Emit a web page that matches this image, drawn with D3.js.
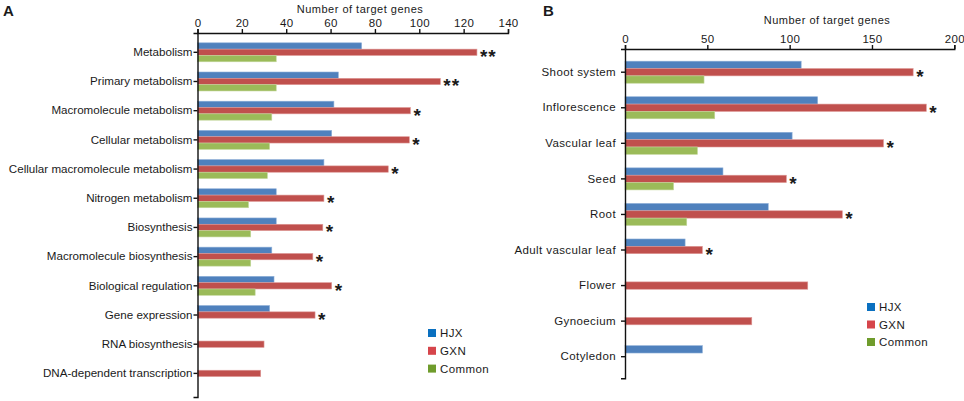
<!DOCTYPE html>
<html>
<head>
<meta charset="utf-8">
<script src="https://cdn.jsdelivr.net/npm/d3@7"></script>
<style>
	body { margin: 0; background: #fff; }
	svg text { font-family: 'Liberation Sans', Arial, sans-serif; fill: #1a1a1a; }
</style>
</head>
<body>
<svg id="chart" width="964" height="401"></svg>
<script>

// panel A : GO categories
var categoriesA = ['Metabolism', 'Primary metabolism', 'Macromolecule metabolism', 'Cellular metabolism',
	'Cellular macromolecule metabolism', 'Nitrogen metabolism', 'Biosynthesis', 'Macromolecule biosynthesis',
	'Biological regulation', 'Gene expression', 'RNA biosynthesis', 'DNA-dependent transcription']
var hjxA    = [74, 63.5, 61.5, 60.5, 57, 35.5, 35.5, 33.5, 34.5, 32.5, null, null]
var gxnA    = [126, 109.5, 96, 95.5, 86, 57, 56.5, 52, 60.5, 53, 30, 28.5]
var commonA = [35.5, 35.5, 33.5, 32.5, 31.5, 23, 24, 24, 26, null, null, null]
var starsA  = ['**', '**', '*', '*', '*', '*', '*', '*', '*', '*', '', '']
var ticksA  = [0, 20, 40, 60, 80, 100, 120, 140]

// panel B : plant organs
var categoriesB = ['Shoot system', 'Inflorescence', 'Vascular leaf', 'Seed', 'Root',
	'Adult vascular leaf', 'Flower', 'Gynoecium', 'Cotyledon']
var hjxB    = [107, 117, 101.5, 59.5, 87, 36.5, null, null, 47]
var gxnB    = [175, 183, 157, 98, 132, 47, 111, 77, null]
var commonB = [48, 54.5, 44, 29.5, 37.5, null, null, null, null]
var starsB  = ['*', '*', '*', '*', '*', '*', '', '', '']
var ticksB  = [0, 50, 100, 150, 200]

var seriesNames = ['HJX', 'GXN', 'Common']
var barColors = ['#4f81bd', '#c0504d', '#9bbb59']
var barStrokes = ['#8fb0d8', '#de9896', '#c3d79c']
var legendColors = ['#0a70c0', '#d6454b', '#6f9c2c']

var svg = d3.select('#chart')

/**
 * draw one horizontal grouped bar panel
 */
function drawPanel(opts) {

	var g = svg.append('g')

	var x = d3.scaleLinear()
		.domain([0, d3.max(opts.ticks)])
		.range(opts.xRange)

	var y = d3.scaleBand()
		.domain(opts.categories)
		.range(opts.yRange)
		.paddingInner(opts.padInner)
		.paddingOuter(opts.padOuter)
		.align(opts.align)

	var sub = d3.scaleBand()
		.domain(seriesNames)
		.range([0, y.bandwidth()])

	var rows = opts.categories.map(function(c, i) {
		return {
			name: c
			, values: [opts.hjx[i], opts.gxn[i], opts.common[i]]
			, star: opts.stars[i]
		}
	})

	// bars
	rows.forEach(function(row) {
		g.selectAll(null).data(row.values.map(function(v, k) { return {v: v, k: k} })
			.filter(function(d) { return d.v != null }))
		  .enter()
		    .append('rect')
		    .attr('x', x(0))
		    .attr('y', function(d) { return y(row.name) + sub(seriesNames[d.k]) })
		    .attr('width', function(d) { return x(d.v) - x(0) })
		    .attr('height', sub.bandwidth())
		    .style('fill', function(d) { return barColors[d.k] })
		    .style('stroke', function(d) { return barStrokes[d.k] })
		    .style('stroke-width', 0.6)
	})

	// significance marks
	g.selectAll('.star').data(rows.filter(function(r) { return r.star }))
	  .enter()
	    .append('text')
	    .attr('class', 'star')
	    .attr('x', function(d) { return x(d.values[1]) + 3 })
	    .attr('y', function(d) { return y(d.name) + sub('GXN') + sub.bandwidth() / 2 + 11 })
	    .style('font-size', '19px')
	    .style('font-weight', 'bold')
	    .style('letter-spacing', '1px')
	    .text(function(d) { return d.star })

	// axes
	var xAxis = g.append('g')
		.attr('transform', 'translate(0,' + opts.yRange[0] + ')')
		.call(d3.axisTop(x).tickValues(opts.ticks).tickSize(4).tickPadding(2))

	var yAxis = g.append('g')
		.attr('transform', 'translate(' + opts.xRange[0] + ',0)')
		.call(d3.axisLeft(y).tickSize(4).tickPadding(opts.labelPad))

	;[xAxis, yAxis].forEach(function(a) {
		a.selectAll('path, line').style('stroke', '#111').style('stroke-width', 1.4)
		a.selectAll('text').style('fill', '#1a1a1a')
			.style('font-family', "'Liberation Sans', Arial, sans-serif")
	})
	xAxis.selectAll('text').style('font-size', '11.5px').style('letter-spacing', '0.3px')
	yAxis.selectAll('text').style('font-size', opts.labelSize).style('letter-spacing', opts.letterSpacing)

	// axis title
	g.append('text')
		.attr('x', opts.titleX)
		.attr('y', opts.titleY)
		.attr('text-anchor', 'middle')
		.style('font-size', '11px')
		.style('letter-spacing', '0.5px')
		.text('Number of target genes')

	// panel letter
	g.append('text')
		.attr('x', opts.letterX)
		.attr('y', 16)
		.style('font-size', '15px')
		.style('font-weight', 'bold')
		.text(opts.letter)

	// legend
	var leg = g.selectAll('.legend').data(seriesNames)
	  .enter()
	    .append('g')
	    .attr('transform', function(d, i) {
			return 'translate(' + opts.legendX + ',' + (opts.legendY + i * opts.legendStep) + ')'
	    })

	leg.append('rect')
		.attr('x', 0).attr('y', -4)
		.attr('width', 8).attr('height', 8)
		.style('fill', function(d, i) { return legendColors[i] })

	leg.append('text')
		.attr('x', 12).attr('y', 4)
		.style('font-size', '11.5px')
		.style('letter-spacing', '0.4px')
		.text(function(d) { return d })
}

drawPanel({
	categories: categoriesA, hjx: hjxA, gxn: gxnA, common: commonA, stars: starsA, ticks: ticksA
	, xRange: [197.5, 508], yRange: [33, 397]
	, padInner: 0.35, padOuter: 0.41, align: 0.41
	, labelPad: 1, labelSize: '11.6px', letterSpacing: '0px'
	, titleX: 360, titleY: 13
	, letter: 'A', letterX: 3
	, legendX: 428, legendY: 333, legendStep: 17.8
})

drawPanel({
	categories: categoriesB, hjx: hjxB, gxn: gxnB, common: commonB, stars: starsB, ticks: ticksB
	, xRange: [625, 954.3], yRange: [49, 378.3]
	, padInner: 0.38, padOuter: 0.32, align: 0.535
	, labelPad: 5, labelSize: '11.5px', letterSpacing: '0.4px'
	, titleX: 827, titleY: 24
	, letter: 'B', letterX: 543
	, legendX: 867, legendY: 307, legendStep: 17.5
})

</script>
</body>
</html>
